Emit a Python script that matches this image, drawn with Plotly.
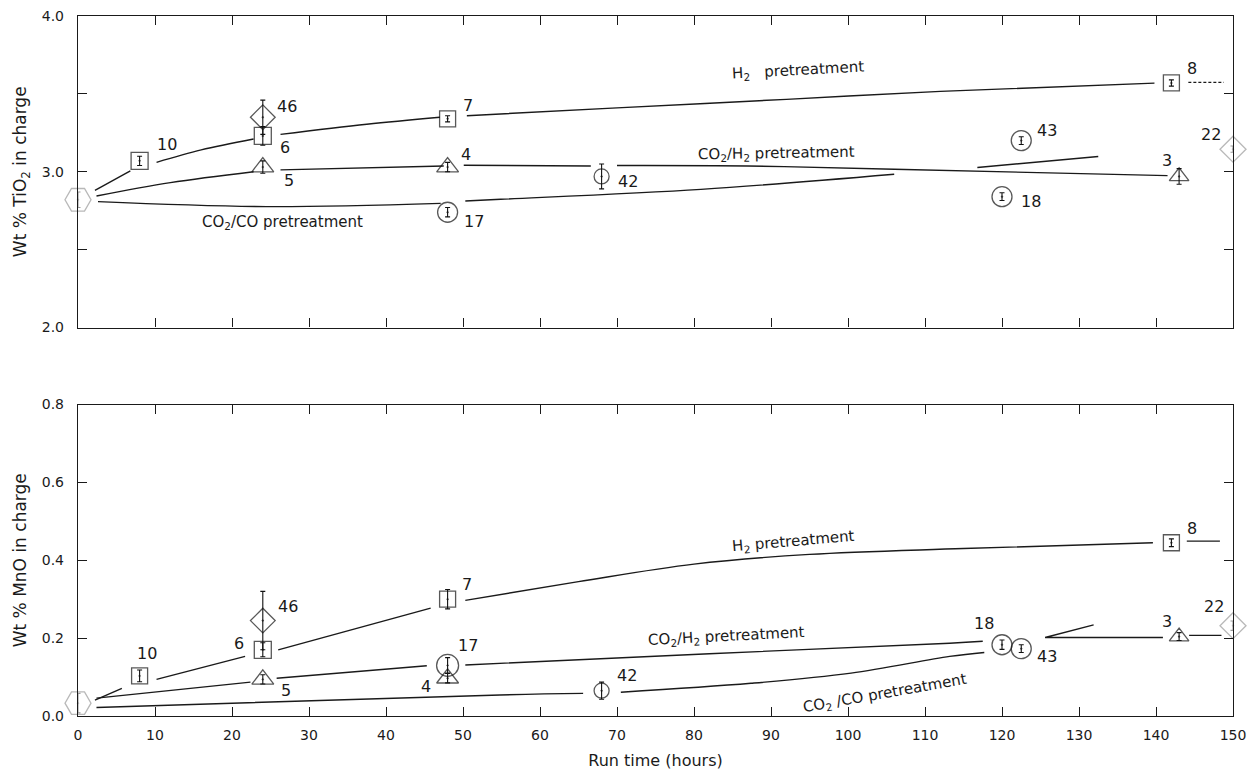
import plotly.graph_objects as go

# ---------------- data ----------------
RUNS = ["", "10", "46", "6", "5", "7", "4", "17", "42", "43", "18", "8", "3", "22"]
HOURS = [0, 8, 24, 24, 24, 48, 48, 48, 68, 122.5, 120, 142, 143, 150]
TIO2 = [2.82, 3.07, 3.35, 3.23, 3.03, 3.34, 3.03, 2.74, 2.97, 3.20, 2.84, 3.57, 2.97, 3.145]
TIO2_ERR = [0.05, 0.03, 0.11, 0.06, 0.04, 0.02, 0.03, 0.03, 0.08, 0.025, 0.025, 0.02, 0.05, 0.02]
MNO = [0.033, 0.103, 0.245, 0.17, 0.094, 0.30, 0.097, 0.13, 0.065, 0.173, 0.183, 0.445, 0.204, 0.232]
MNO_ERR = [0.025, 0.015, 0.075, 0.018, 0.012, 0.025, 0.012, 0.02, 0.022, 0.01, 0.012, 0.01, 0.01, 0.012]

X_TICKS = [0, 10, 20, 30, 40, 50, 60, 70, 80, 90, 100, 110, 120, 130, 140, 150]
TIO2_TICKS = [2.0, 2.5, 3.0, 3.5, 4.0]
TIO2_TICKTEXT = ["2.0", " ", "3.0", " ", "4.0"]
MNO_TICKS = [0.0, 0.2, 0.4, 0.6, 0.8]
MNO_TICKTEXT = ["0.0", "0.2", "0.4", "0.6", "0.8"]

# hand-drawn trend curves (segments separated by None)
TOP_H2_X = [2.2, 6.8, None, 10.2, 16, 22.8, None, 26.3, 37.5, 47, None, 50.5, 70, 92, 112, 139.8]
TOP_H2_Y = [2.88, 3.005, None, 3.06, 3.14, 3.21, None, 3.24, 3.305, 3.35, None, 3.36, 3.41, 3.465, 3.516, 3.569]
TOP_H2_TAIL_X = [144.2, 148.8]
TOP_H2_TAIL_Y = [3.574, 3.574]
TOP_CO2H2_X = [2.4, 12, 22.8, None, 26.3, 47.5, None, 50.1, 66.6, None, 70, 87, 106, 141.5]
TOP_CO2H2_Y = [2.844, 2.93, 3.0, None, 3.012, 3.037, None, 3.042, 3.037, None, 3.04, 3.037, 3.016, 2.975]
TOP_STRAY_X = [116.8, 132.5]
TOP_STRAY_Y = [3.027, 3.098]
TOP_CO2CO_X = [2.6, 24.5, 47.1, None, 50.3, 54.9, 80.9, 106]
TOP_CO2CO_Y = [2.808, 2.776, 2.797, None, 2.812, 2.823, 2.887, 2.984]

BOT_H2_X = [2.2, 5.7, None, 10.2, 21.7, None, 26, 45.8, None, 50.3, 65, 80, 95, 115, 139.6, None, 144, 148.3]
BOT_H2_Y = [0.041, 0.071, None, 0.094, 0.153, None, 0.17, 0.277, None, 0.297, 0.345, 0.39, 0.415, 0.43, 0.445, None, 0.449, 0.449]
BOT_CO2H2_X = [2.4, 22.4, None, 25.8, 45.3, None, 50.3, 82, 113.2, 117.5]
BOT_CO2H2_Y = [0.046, 0.087, None, 0.097, 0.129, None, 0.131, 0.16, 0.187, 0.192]
BOT_ARROW_X = [140.9, 125.6, 131.9, None, 144.3, 148.5]
BOT_ARROW_Y = [0.2015, 0.2015, 0.234, None, 0.207, 0.207]
BOT_CO2CO_X = [2.4, 54.8, 65.6, None, 70.5, 87.4, 100.4, 113.2, 117.7]
BOT_CO2CO_Y = [0.022, 0.054, 0.058, None, 0.061, 0.084, 0.11, 0.153, 0.163]

# ---------------- styles ----------------
KIND = ["hex", "sq", "dia", "sq", "tri", "sq", "tri", "circ", "circ", "circ", "circ", "sq", "tri", "dia_g"]
SIZE_TOP = [26, 17, 19, 17, 19, 16, 19, 20, 15, 20, 20, 16, 17, 20]
SIZE_BOT = [26, 16, 19, 17, 19, 16, 19, 22, 15, 20, 20, 16, 17, 20]
KIND_STYLE = {
    "hex": ("hexagon2-open-dot", "#9a9a9a"),
    "sq": ("square-open-dot", "#111111"),
    "dia": ("diamond-open-dot", "#111111"),
    "tri": ("triangle-up-open-dot", "#111111"),
    "circ": ("circle-open-dot", "#111111"),
    "dia_g": ("diamond-open-dot", "#9a9a9a"),
}
OFF_TOP = [None, (27, 16), (24, 11), (22, -12), (26, -13), (20, 13), (18, 13), (26, -9),
           (26, -5), (26, 10), (29, -5), (21, 14), (-12, 16), (-22, 15)]
OFF_BOT = [None, (7, 22), (25, 14), (-24, 6), (23, -11), (19, 15), (-22, -8), (20, 20),
           (25, 15), (26, -8), (-18, 21), (21, 14), (-12, 15), (-19, 19)]

FONT = "'DejaVu Sans', sans-serif"
INK = "#1a1a1a"

fig = go.Figure()


def add_curve(xs, ys, xa, ya, dash="solid", width=1.4, shape="spline"):
    fig.add_trace(go.Scatter(x=xs, y=ys, mode="lines", xaxis=xa, yaxis=ya,
                             line=dict(color=INK, width=width, shape=shape, dash=dash),
                             connectgaps=False, showlegend=False, hoverinfo="skip"))


add_curve(TOP_H2_X, TOP_H2_Y, "x", "y")
add_curve(TOP_H2_TAIL_X, TOP_H2_TAIL_Y, "x", "y", dash="3px,2px", width=1.2, shape="linear")
add_curve(TOP_CO2H2_X, TOP_CO2H2_Y, "x", "y")
add_curve(TOP_STRAY_X, TOP_STRAY_Y, "x", "y", shape="linear")
add_curve(TOP_CO2CO_X, TOP_CO2CO_Y, "x", "y")
add_curve(BOT_H2_X, BOT_H2_Y, "x2", "y2")
add_curve(BOT_CO2H2_X, BOT_CO2H2_Y, "x2", "y2")
add_curve(BOT_ARROW_X, BOT_ARROW_Y, "x2", "y2", shape="linear")
add_curve(BOT_CO2CO_X, BOT_CO2CO_Y, "x2", "y2")


def add_points(vals, errs, sizes, xa, ya):
    for kind, (sym, col) in KIND_STYLE.items():
        idx = [i for i, k in enumerate(KIND) if k == kind]
        fig.add_trace(go.Scatter(
            x=[HOURS[i] for i in idx], y=[vals[i] for i in idx], mode="markers",
            xaxis=xa, yaxis=ya, cliponaxis=False, showlegend=False,
            marker=dict(symbol=sym, size=[sizes[i] for i in idx], color=col,
                        line=dict(color=col, width=1.3)),
            error_y=dict(type="data", array=[errs[i] for i in idx], color=col,
                         thickness=1.1, width=2.5),
        ))


add_points(TIO2, TIO2_ERR, SIZE_TOP, "x", "y")
add_points(MNO, MNO_ERR, SIZE_BOT, "x2", "y2")

ann = []
for i, r in enumerate(RUNS):
    if not r:
        continue
    for vals, off, xr, yr in ((TIO2, OFF_TOP, "x", "y"), (MNO, OFF_BOT, "x2", "y2")):
        ann.append(dict(x=HOURS[i], y=vals[i], xref=xr, yref=yr, text=r, showarrow=False,
                        xshift=off[i][0], yshift=off[i][1],
                        font=dict(family=FONT, size=16, color=INK)))

CURVE_LABELS = [
    ("H<sub>2</sub>   pretreatment", 93.5, 3.65, "x", "y", -3),
    ("CO<sub>2</sub>/H<sub>2</sub> pretreatment", 90.7, 3.12, "x", "y", -1),
    ("CO<sub>2</sub>/CO pretreatment", 26.5, 2.675, "x", "y", 0),
    ("H<sub>2</sub> pretreatment", 92.9, 0.448, "x2", "y2", -5),
    ("CO<sub>2</sub>/H<sub>2</sub> pretreatment", 84.2, 0.203, "x2", "y2", -3),
    ("CO<sub>2</sub> /CO pretreatment", 104.8, 0.058, "x2", "y2", -10),
]
for txt, x, y, xr, yr, ang in CURVE_LABELS:
    ann.append(dict(x=x, y=y, xref=xr, yref=yr, text=txt, showarrow=False, textangle=ang,
                    font=dict(family=FONT, size=15, color=INK)))

axis_common = dict(showline=True, linecolor=INK, linewidth=1.4, mirror="allticks",
                   ticks="inside", ticklen=9, tickwidth=1.3, tickcolor=INK,
                   showgrid=False, zeroline=False, automargin=False,
                   ticklabeloverflow="allow",
                   tickfont=dict(family=FONT, size=14, color=INK))

fig.update_layout(
    width=1257, height=779,
    margin=dict(l=70, r=32, t=8, b=71),
    paper_bgcolor="white", plot_bgcolor="white",
    font=dict(family=FONT, color=INK),
    xaxis=dict(domain=[0, 1], anchor="y", range=[0, 150], tickvals=X_TICKS,
               showticklabels=False, **axis_common),
    yaxis=dict(domain=[0.555, 1], anchor="x", range=[2, 4], tickvals=TIO2_TICKS,
               ticktext=TIO2_TICKTEXT, ticklabelstandoff=10,
               title=dict(text="Wt % TiO<sub>2</sub> in charge", standoff=10,
                          font=dict(family=FONT, size=17, color=INK)),
               **axis_common),
    xaxis2=dict(domain=[0, 1], anchor="y2", range=[0, 150], tickvals=X_TICKS,
                ticktext=[str(v) for v in X_TICKS], ticklabelstandoff=6,
                title=dict(text="Run time (hours)", standoff=12,
                           font=dict(family=FONT, size=16, color=INK)),
                **axis_common),
    yaxis2=dict(domain=[0, 0.445], anchor="x2", range=[0, 0.8], tickvals=MNO_TICKS,
                ticktext=MNO_TICKTEXT, ticklabelstandoff=10,
                title=dict(text="Wt % MnO in charge", standoff=10,
                           font=dict(family=FONT, size=17, color=INK)),
                **axis_common),
    annotations=ann,
)

fig.write_html("out.html")
